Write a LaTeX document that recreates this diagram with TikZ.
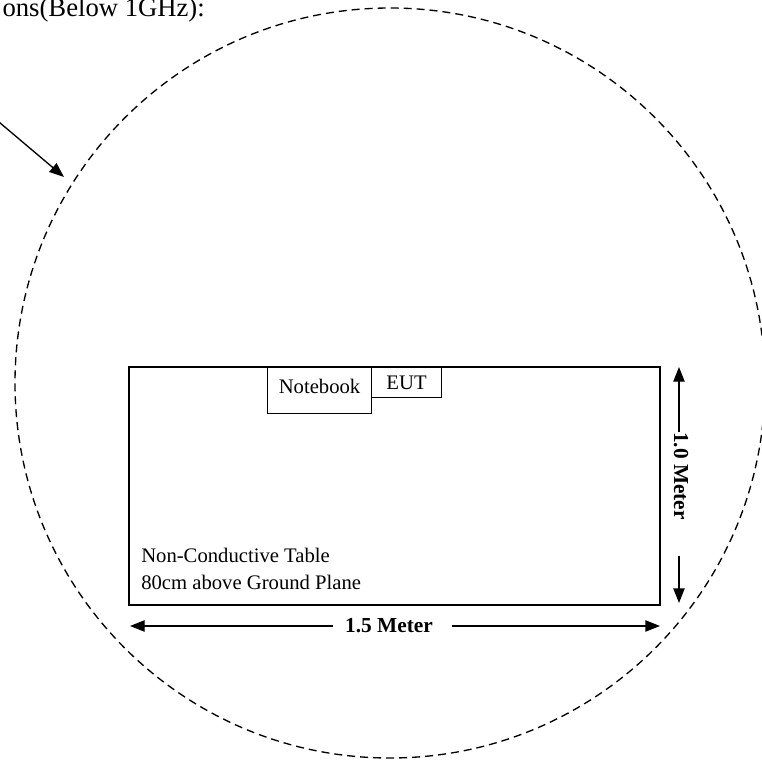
\documentclass[tikz,border=0pt]{standalone}
\usepackage{fontspec}
\setmainfont{Liberation Serif}
\usetikzlibrary{arrows.meta}
\begin{document}
\begin{tikzpicture}[x=0.75pt,y=-0.75pt,
  every node/.style={font=\fontsize{15.5pt}{18pt}\selectfont, inner sep=0pt},
  tip/.style={line width=1pt,-{Triangle[length=11pt,width=8.5pt]}},
  smallbox/.style={draw, line width=0.8pt, anchor=north west},
  dim/.style={font=\fontsize{16pt}{18pt}\selectfont\bfseries}]
\useasboundingbox (0,0) rectangle (762,763);
% test zone circle
\draw[line width=1pt, dash pattern=on 6pt off 3.75pt] (390,383) circle[radius=375];
% title text (cut at the left edge)
\node[anchor=base east, font=\fontsize{20pt}{22pt}\selectfont] (title) at (205,17) {ons(Below 1GHz):};
\coordinate (astart) at (-20,106);
\coordinate (aend) at (64,177);
\draw[tip] (astart) -- (aend);
% equipment on the table
\node[smallbox, minimum width=78pt, minimum height=34.5pt] (nb) at (267,367) {};
\node at ([yshift=-14.5pt]nb.north) (nbtext) {Notebook};
\node[smallbox, minimum width=52.5pt, minimum height=22.5pt] (eut) at (371,367) {EUT};
% table
\draw[line width=1.6pt] (129,367) rectangle (660,605);
\node[anchor=base west] (t1) at (141,562) {Non-Conductive Table};
\node[anchor=base west] (t2) at (141,589) {80cm above Ground Plane};
% 1.5 Meter
\node[dim] (m15) at (389,626) {1.5 Meter};
\coordinate (hl) at (130,626);
\coordinate (hr) at (660,626);
\draw[tip] ([xshift=-9pt]m15.west) -- (hl);
\draw[tip] ([xshift=14pt]m15.east) -- (hr);
% 1.0 Meter
\node[dim, rotate=-90] (m10) at (681,476) {1.0 Meter};
\coordinate (vt) at (679,367);
\coordinate (vb) at (679,603);
\coordinate (vbs) at (679,556);
\draw[tip] (m10.west -| vt) -- (vt);
\draw[tip] (vbs) -- (vb);
\end{tikzpicture}
\end{document}
